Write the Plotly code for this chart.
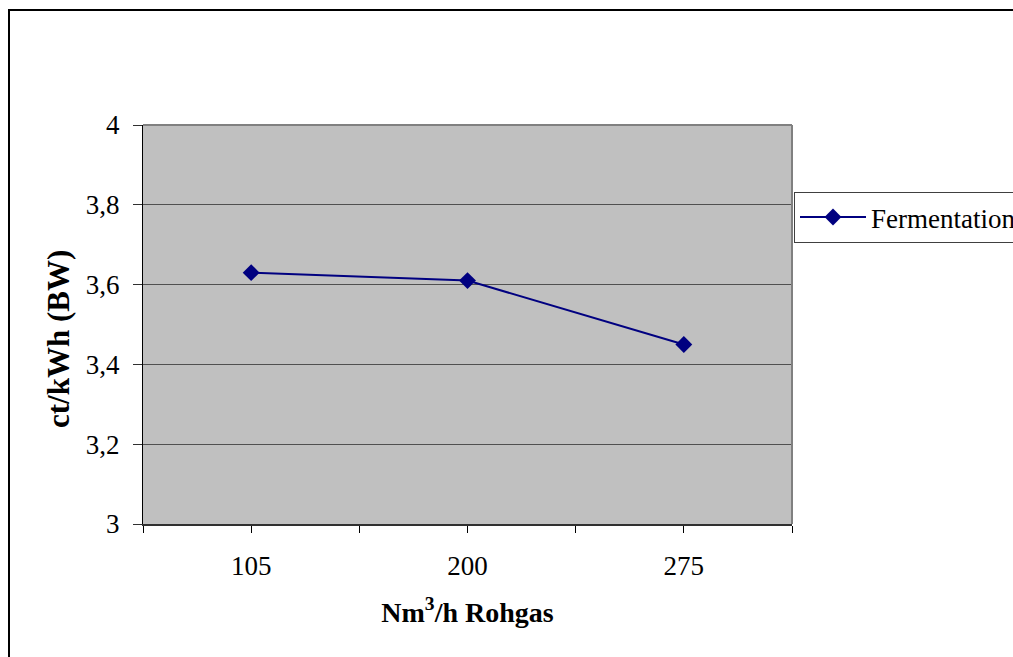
import plotly.graph_objects as go

# Raw gas throughput classes and specific cost per kWh
categories = ["105", "200", "275"]
fermentation = [3.63, 3.61, 3.45]
series_name = "Fermentation"

y_ticks = [3, 3.2, 3.4, 3.6, 3.8, 4]

W, H = 1013, 657
L, R, T, B = 143, 792, 125, 524  # plot area edges in pixels

def px_x(p):
    return (p - L) / (R - L)

def px_y(p):
    return (B - p) / (B - T)

x_pos = list(range(1, len(categories) + 1))
font_family = "Liberation Serif"

fig = go.Figure()
fig.add_trace(go.Scatter(
    x=x_pos, y=fermentation, name=series_name, mode="lines+markers",
    line=dict(color="#000080", width=2),
    marker=dict(symbol="diamond", size=13, color="#000080"),
))

fig.update_layout(
    width=W, height=H,
    margin=dict(l=L, r=W - R, t=T, b=H - B, autoexpand=False),
    paper_bgcolor="white",
    plot_bgcolor="#C0C0C0",
    separators=",.",
    font=dict(family=font_family, size=27, color="black"),
    showlegend=True,
    legend=dict(
        x=px_x(794), y=px_y(192), xanchor="left", yanchor="top",
        bgcolor="white", bordercolor="#404040", borderwidth=1,
        font=dict(family=font_family, size=27, color="black"),
        itemwidth=66,
        tracegroupgap=0,
    ),
    xaxis=dict(
        range=[0.5, len(categories) + 0.5],
        tickvals=x_pos, ticktext=categories,
        ticks="outside", ticklen=7, tickcolor="black", tickwidth=1,
        minor=dict(tick0=0.5, dtick=0.5, ticks="outside", ticklen=7,
                   tickcolor="black", tickwidth=1, showgrid=False),
        showgrid=False, zeroline=False,
        showline=True, linecolor="#303030", linewidth=2,
        tickfont=dict(family=font_family, size=27),
        ticklabelstandoff=10,
        title=dict(text="<b>Nm<sup>3</sup>/h Rohgas</b>",
                   font=dict(family=font_family, size=28), standoff=22),
    ),
    yaxis=dict(
        range=[3, 4], tickvals=y_ticks,
        ticks="outside", ticklen=9, tickcolor="#303030", tickwidth=1,
        showgrid=True, gridcolor="#505050", gridwidth=1,
        zeroline=False,
        showline=True, linecolor="black", linewidth=1,
        tickfont=dict(family=font_family, size=27),
        ticklabelstandoff=8,
    ),
    annotations=[
        dict(text="<b>ct/kWh (BW)</b>", textangle=-90,
             xref="paper", yref="paper", x=px_x(58), y=px_y(339),
             xanchor="center", yanchor="middle", showarrow=False,
             font=dict(family=font_family, size=31, color="black")),
    ],
    shapes=[
        # plot area frame (top and right edges)
        dict(type="line", xref="paper", yref="paper", x0=0, x1=1, y0=1, y1=1,
             line=dict(color="#808080", width=2)),
        dict(type="line", xref="paper", yref="paper", x0=1, x1=1, y0=0, y1=1,
             line=dict(color="#808080", width=2)),
        # outer chart border
        dict(type="rect", xref="paper", yref="paper",
             x0=px_x(9), x1=px_x(W + 40), y0=px_y(H + 40), y1=px_y(10),
             line=dict(color="black", width=2), fillcolor="rgba(0,0,0,0)",
             layer="below"),
    ],
)

fig.write_html("out.html")
